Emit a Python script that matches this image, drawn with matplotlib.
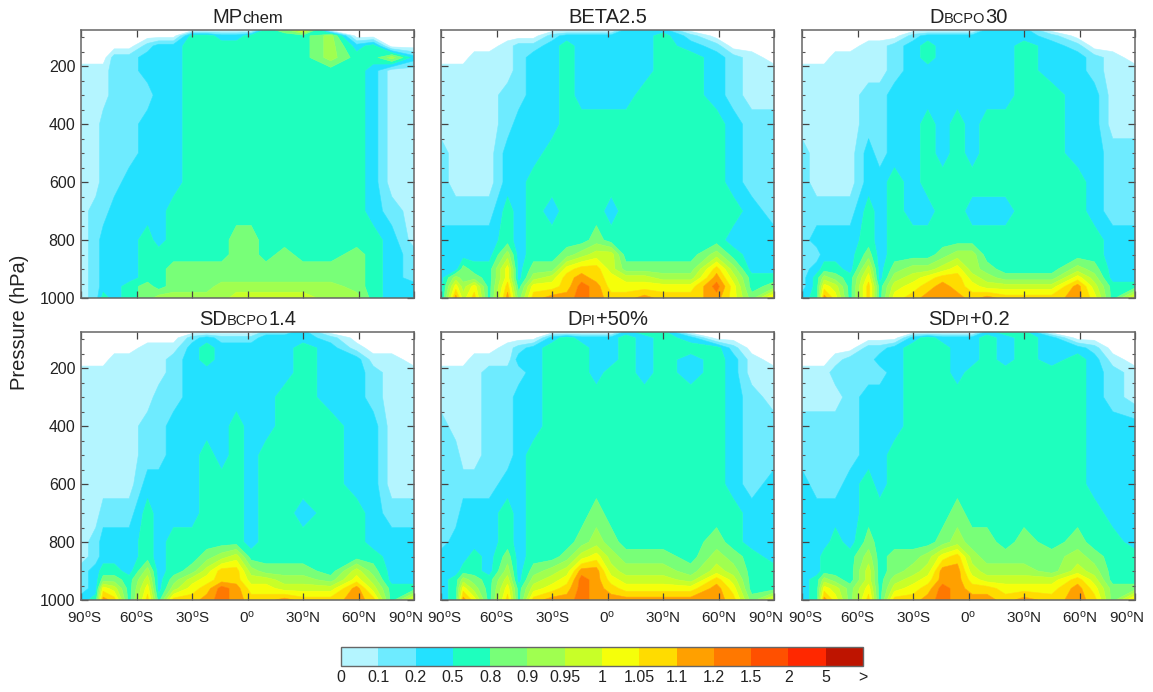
#!/usr/bin/env python
import numpy as np
import matplotlib
matplotlib.use("Agg")
import matplotlib.pyplot as plt
from matplotlib.colors import ListedColormap, Normalize
from matplotlib.cm import ScalarMappable
from matplotlib.ticker import MultipleLocator
from matplotlib.transforms import ScaledTranslation

plt.rcParams["font.family"] = ["Liberation Sans", "DejaVu Sans"]
plt.rcParams["mathtext.fontset"] = "custom"
plt.rcParams["mathtext.rm"] = "Liberation Sans"
plt.rcParams["mathtext.default"] = "regular"

LAT = [-90, -82, -78, -72, -64, -54, -48, -40, -30, -22, -14, -6, 2, 10, 20, 30, 45, 59, 68, 78, 90]
PRES = [75, 95, 130, 170, 215, 300, 400, 500, 600, 700, 800, 850, 900, 930, 960, 1000]

BIN_LABELS = ["0", "0.1", "0.2", "0.5", "0.8", "0.9", "0.95", "1", "1.05", "1.1", "1.2", "1.5", "2", "5", ">"]
BIN_COLORS = ["#B4F5FF", "#6EEBFF", "#23E1FF", "#1EFFBE", "#78FF78", "#A0FF50", "#C8FF28",
              "#F5FF0A", "#FFDC00", "#FFA000", "#FF7800", "#FF5000", "#FF2800", "#BE1400"]

# colour bin read at each pressure (rows) and latitude (columns), -1 = no data
MPCHEM = [
    [-1,-1,-1,-1,-1,-1,-1,-1,-1,-1,-1,-1,-1,3,4,7,-1,-1,-1,-1,-1],
    [-1,-1,-1,-1,-1,-1,-1,-1,3,3,2,2,3,3,3,3,5,-1,-1,-1,-1],
    [-1,-1,-1,-1,-1,1,2,2,3,3,3,3,3,3,3,3,5,2,3,-1,-1],
    [-1,-1,-1,1,1,2,2,2,3,3,3,3,3,3,3,3,5,3,3,5,2],
    [0,0,0,1,1,2,2,2,3,3,3,3,3,3,3,3,3,3,2,0,0],
    [0,0,0,1,1,1,2,2,3,3,3,3,3,3,3,3,3,3,2,0,0],
    [0,0,1,1,1,2,2,2,3,3,3,3,3,3,3,3,3,3,2,0,0],
    [0,0,1,1,1,2,2,2,3,3,3,3,3,3,3,3,3,3,2,0,0],
    [0,0,1,1,2,2,2,2,3,3,3,3,3,3,3,3,3,3,2,0,0],
    [0,1,1,2,2,2,2,3,3,3,3,3,3,3,3,3,3,3,2,1,0],
    [0,1,2,2,2,3,2,3,3,3,3,4,4,3,3,3,3,3,3,2,0],
    [0,1,2,2,2,3,3,3,3,3,3,4,4,3,4,3,3,4,3,2,1],
    [0,1,2,2,2,3,3,4,4,4,4,4,4,4,4,4,4,4,3,2,1],
    [0,1,2,2,2,3,3,4,4,4,4,4,4,4,4,4,4,4,3,2,1],
    [0,1,2,2,3,4,3,4,4,4,5,5,5,5,5,5,5,4,3,2,2],
    [0,1,3,2,3,4,5,5,5,5,5,6,6,6,6,6,5,5,3,2,2],
]
BETA25 = [
    [-1,-1,-1,-1,-1,-1,-1,-1,-1,-1,-1,-1,-1,2,2,2,-1,-1,-1,-1,-1],
    [-1,-1,-1,-1,-1,-1,-1,-1,1,2,2,2,2,2,2,3,1,-1,-1,-1,-1],
    [-1,-1,-1,-1,-1,0,1,1,2,3,2,2,2,2,2,3,2,1,-1,-1,-1],
    [-1,-1,-1,0,0,0,1,2,2,3,2,2,2,2,2,3,3,2,1,0,-1],
    [0,0,0,0,0,0,1,2,2,3,2,2,2,2,2,3,3,2,1,0,0],
    [0,0,0,0,0,1,1,2,2,3,2,2,2,2,3,3,3,2,1,0,0],
    [0,0,0,0,0,1,2,2,2,3,3,3,3,3,3,3,3,3,2,1,1],
    [1,0,0,0,0,2,2,2,3,3,3,3,3,3,3,3,3,3,2,1,1],
    [1,0,0,0,0,2,2,3,3,3,3,3,3,3,3,3,3,3,2,1,1],
    [1,1,1,1,1,3,2,3,2,3,3,3,2,3,3,3,3,3,3,2,1],
    [2,2,2,2,2,3,2,3,3,3,3,4,3,3,3,3,3,3,2,2,2],
    [2,2,2,2,2,5,2,3,3,4,5,6,6,3,3,3,3,5,3,2,2],
    [2,2,4,3,3,7,2,4,4,7,8,8,6,4,4,4,4,8,5,2,2],
    [2,5,4,4,3,7,2,5,6,8,9,8,7,6,6,5,5,9,6,3,3],
    [2,7,5,7,3,8,3,7,7,8,10,9,7,7,7,7,7,10,7,3,4],
    [2,9,6,8,3,9,4,8,9,9,10,9,8,8,9,8,8,9,7,4,8],
]
DBCPO30 = [
    [-1,-1,-1,-1,-1,-1,-1,-1,-1,-1,-1,-1,-1,2,2,2,-1,-1,-1,-1,-1],
    [-1,-1,-1,-1,-1,-1,-1,-1,1,2,2,2,2,2,2,2,1,-1,-1,-1,-1],
    [-1,-1,-1,-1,-1,0,0,1,2,3,2,2,2,2,2,3,2,1,-1,-1,-1],
    [-1,-1,-1,0,0,0,0,1,2,3,2,2,2,2,2,3,2,2,1,0,-1],
    [0,0,0,0,0,0,0,1,2,2,2,2,2,2,2,3,2,2,1,0,0],
    [0,0,0,0,0,1,1,2,2,2,2,2,2,2,2,3,3,2,2,0,0],
    [0,0,0,0,0,1,1,2,2,3,2,3,2,3,3,3,3,2,2,0,0],
    [1,0,0,0,0,2,1,2,2,3,2,3,2,3,3,3,3,2,2,1,1],
    [1,0,0,0,0,2,2,3,2,3,3,3,3,3,3,3,3,3,2,1,1],
    [1,1,1,1,1,3,2,3,2,2,3,3,2,2,2,3,3,3,2,1,1],
    [1,2,2,2,2,3,2,3,3,3,3,3,3,3,3,3,3,3,3,2,2],
    [1,1,2,2,2,4,2,3,3,3,4,5,5,3,3,3,3,3,3,2,2],
    [1,2,3,3,2,6,2,4,5,5,6,7,5,4,3,3,3,5,4,2,2],
    [1,3,5,4,3,7,2,5,6,7,8,8,6,5,4,4,4,7,5,2,2],
    [1,3,7,6,3,8,3,6,7,8,9,8,7,6,6,6,6,9,6,3,3],
    [2,3,9,7,3,8,3,7,8,9,9,9,8,9,8,8,8,9,7,3,7],
]
SDBCPO14 = [
    [-1,-1,-1,-1,-1,-1,-1,-1,-1,-1,-1,-1,-1,1,1,2,-1,-1,-1,-1,-1],
    [-1,-1,-1,-1,-1,-1,-1,-1,1,2,1,1,1,2,2,2,1,-1,-1,-1,-1],
    [-1,-1,-1,-1,-1,0,0,0,2,3,2,2,2,2,2,3,2,0,-1,-1,-1],
    [-1,-1,-1,0,0,0,0,1,2,3,2,2,2,2,2,3,2,2,0,0,-1],
    [0,0,0,0,0,0,0,1,2,2,2,2,2,2,2,3,2,2,1,0,0],
    [0,0,0,0,0,0,1,1,2,2,2,2,2,2,3,3,2,2,1,0,0],
    [0,0,0,0,0,1,1,2,2,2,2,3,2,2,3,3,3,2,2,0,0],
    [0,0,0,0,0,1,1,2,2,3,2,3,2,3,3,3,3,2,2,0,0],
    [0,0,0,0,0,2,2,2,2,3,3,3,2,3,3,3,3,2,2,0,0],
    [0,0,1,1,1,3,2,2,2,3,3,3,2,3,3,2,3,3,2,1,1],
    [0,1,2,2,2,3,2,3,3,3,3,3,2,3,3,3,3,3,2,2,2],
    [0,1,2,2,2,3,2,3,3,4,5,6,3,3,3,3,3,3,3,2,2],
    [1,2,3,3,2,5,2,3,4,6,8,8,5,4,4,4,3,6,4,2,2],
    [1,2,4,4,3,6,2,4,6,7,8,8,6,6,5,5,4,7,5,2,2],
    [1,2,7,6,3,7,2,5,7,8,10,9,7,7,6,6,6,9,6,3,3],
    [2,3,9,8,3,8,3,8,8,9,10,9,8,8,9,8,8,9,8,3,7],
]
DPI50 = [
    [-1,-1,-1,-1,-1,-1,-1,-1,-1,-1,-1,-1,-1,2,3,3,-1,-1,-1,-1,-1],
    [-1,-1,-1,-1,-1,-1,-1,-1,2,3,2,2,2,3,2,3,2,-1,-1,-1,-1],
    [-1,-1,-1,-1,-1,0,1,2,3,3,3,2,2,3,2,3,3,3,1,-1,-1],
    [-1,-1,-1,0,0,0,2,2,3,3,3,2,2,3,2,3,2,3,2,0,-1],
    [0,0,0,0,1,1,1,2,3,3,3,2,3,3,2,3,2,3,2,0,0],
    [0,0,0,0,1,1,2,2,3,3,3,3,3,3,3,3,3,3,2,1,0],
    [1,0,0,0,1,1,2,2,3,3,3,3,3,3,3,3,3,3,2,1,1],
    [1,1,0,0,1,1,2,3,3,3,3,3,3,3,3,3,3,3,2,1,1],
    [1,1,1,1,1,2,2,3,3,3,3,3,3,3,3,3,3,3,2,1,2],
    [1,1,2,2,2,3,2,3,3,3,3,4,3,3,3,3,3,3,3,2,2],
    [1,2,2,2,2,3,2,3,3,3,4,5,4,3,3,3,3,4,3,2,2],
    [2,2,2,3,2,4,2,3,3,4,6,7,5,4,4,4,3,5,4,3,2],
    [2,2,3,3,2,5,2,4,5,6,9,9,6,5,5,5,4,6,5,3,3],
    [2,3,5,4,3,6,2,5,6,7,10,9,7,6,6,6,5,8,6,3,3],
    [2,3,7,5,3,7,3,6,7,8,10,9,8,7,7,7,7,9,7,3,3],
    [2,3,9,7,3,8,3,8,9,9,10,9,9,9,9,9,9,9,8,4,7],
]
SDPI02 = [
    [-1,-1,-1,-1,-1,-1,-1,-1,-1,-1,-1,-1,-1,2,3,3,-1,-1,-1,-1,-1],
    [-1,-1,-1,-1,-1,-1,-1,-1,2,3,2,2,2,3,2,3,2,-1,-1,-1,-1],
    [-1,-1,-1,-1,-1,1,1,2,3,3,3,2,2,3,2,3,2,2,1,-1,-1],
    [-1,-1,-1,0,1,1,2,2,3,3,3,2,2,3,2,3,2,3,2,0,-1],
    [0,0,0,1,1,1,1,2,3,3,3,2,3,3,3,3,3,3,2,1,0],
    [0,0,0,0,1,2,2,2,3,3,3,3,3,3,3,3,3,3,2,1,0],
    [1,1,1,1,1,2,2,2,3,3,3,3,3,3,3,3,3,3,2,2,2],
    [1,1,1,1,1,2,2,3,3,3,3,3,3,3,3,3,3,3,2,2,2],
    [2,1,1,1,2,3,2,3,3,3,3,3,3,3,3,3,3,3,2,2,2],
    [2,2,2,2,2,3,3,3,3,3,3,4,3,3,3,3,3,3,3,2,2],
    [2,2,2,3,2,4,3,3,3,3,4,5,4,4,3,4,3,4,3,3,2],
    [2,2,3,3,3,5,3,4,4,5,7,8,5,4,4,4,4,5,4,3,3],
    [2,2,3,3,3,6,3,4,5,6,9,9,6,5,5,5,4,6,5,3,3],
    [2,3,5,4,3,6,3,5,6,7,9,9,7,6,6,6,6,8,6,3,3],
    [2,3,7,6,4,7,3,6,7,8,10,9,8,8,7,7,7,9,7,4,4],
    [2,3,9,7,4,8,3,8,8,9,10,9,9,9,8,9,8,9,8,4,8],
]

PANELS = [MPCHEM, BETA25, DBCPO30, SDBCPO14, DPI50, SDPI02]
TITLES = [[("MP", 14.5), ("chem", 12)],
          [("BETA2.5", 14.5)],
          [("D", 14.5), ("BCPO", 10.5), ("30", 14.5)],
          [("SD", 14.5), ("BCPO", 10.5), ("1.4", 14.5)],
          [("D", 14.5), ("PI", 10.5), ("+50%", 14.5)],
          [("SD", 14.5), ("PI", 10.5), ("+0.2", 14.5)]]
XTICKS = [-90, -60, -30, 0, 30, 60, 90]
XLABELS = ["90$^{o}$S", "60$^{o}$S", "30$^{o}$S", "0$^{o}$", "30$^{o}$N", "60$^{o}$N", "90$^{o}$N"]

W, H = 1153, 692
LEFTS = [81, 441, 802]
TOPS = [30, 332]
PW, PH = 333, 268
EDGE = "#666666"


def add_title(fig, parts, xc, y):
    # title with a smaller middle part, centred on the panel
    txts = [fig.text(0, y, s, fontsize=fs, va="baseline", color="#222222") for s, fs in parts]
    fig.canvas.draw()
    rend = fig.canvas.get_renderer()
    wid = [t.get_window_extent(rend).width / W for t in txts]
    x = xc - sum(wid) / 2
    for t, w in zip(txts, wid):
        t.set_x(x)
        x += w


fig = plt.figure(figsize=(W / 100, H / 100), dpi=100)
cmap = ListedColormap(BIN_COLORS)
levels = np.arange(0, len(BIN_COLORS) + 1)

for ii, table in enumerate(PANELS):
    row, col = ii // 3, ii % 3
    ax = fig.add_axes([LEFTS[col] / W, 1 - (TOPS[row] + PH) / H, PW / W, PH / H])
    z = np.array(table, dtype=float) + 0.5
    cs = ax.contourf(LAT, PRES, z, levels=levels, colors=BIN_COLORS, antialiased=True)
    cs.set_edgecolor("face")
    cs.set_linewidth(0.4)
    ax.set_xlim(-90, 90)
    ax.set_ylim(1000, 75)
    ax.set_xticks(XTICKS)
    ax.set_yticks([200, 400, 600, 800, 1000])
    ax.yaxis.set_minor_locator(MultipleLocator(50))
    ax.tick_params(which="major", direction="in", top=True, right=True, length=5, width=0.9,
                   color="#444444", labelcolor="#222222")
    ax.tick_params(which="minor", direction="in", right=True, length=2.5, width=0.8, color="#555555")
    ax.tick_params(axis="x", labelsize=11, pad=7)
    ax.tick_params(axis="y", labelsize=11.5, pad=4)
    if row == 1:
        ax.set_xticklabels(XLABELS)
        # end labels sit a bit inwards in the original
        labs = ax.get_xticklabels()
        labs[0].set_transform(labs[0].get_transform() + ScaledTranslation(3 / 100, 0, fig.dpi_scale_trans))
        labs[-1].set_transform(labs[-1].get_transform() + ScaledTranslation(-8 / 100, 0, fig.dpi_scale_trans))
    else:
        ax.set_xticklabels([])
    if col != 0:
        ax.set_yticklabels([])
    for sp in ax.spines.values():
        sp.set_color(EDGE)
        sp.set_linewidth(1.1)
    add_title(fig, TITLES[ii], (LEFTS[col] + PW / 2) / W, 1 - (TOPS[row] - 7) / H)

fig.text(20 / W, 1 - 322 / H, "Pressure (hPa)", rotation=90, fontsize=14.5, ha="center", va="center",
         color="#222222")

cax = fig.add_axes([341 / W, 1 - 666 / H, 522 / W, 19 / H])
sm = ScalarMappable(norm=Normalize(0, len(BIN_COLORS)), cmap=cmap)
cb = fig.colorbar(sm, cax=cax, orientation="horizontal", drawedges=False)
cb.set_ticks(levels, labels=BIN_LABELS)
cb.ax.tick_params(length=0, labelsize=11.5, labelcolor="#222222", pad=3)
cb.outline.set_edgecolor(EDGE)
cb.outline.set_linewidth(1.0)

fig.savefig("out.png", dpi=100)
